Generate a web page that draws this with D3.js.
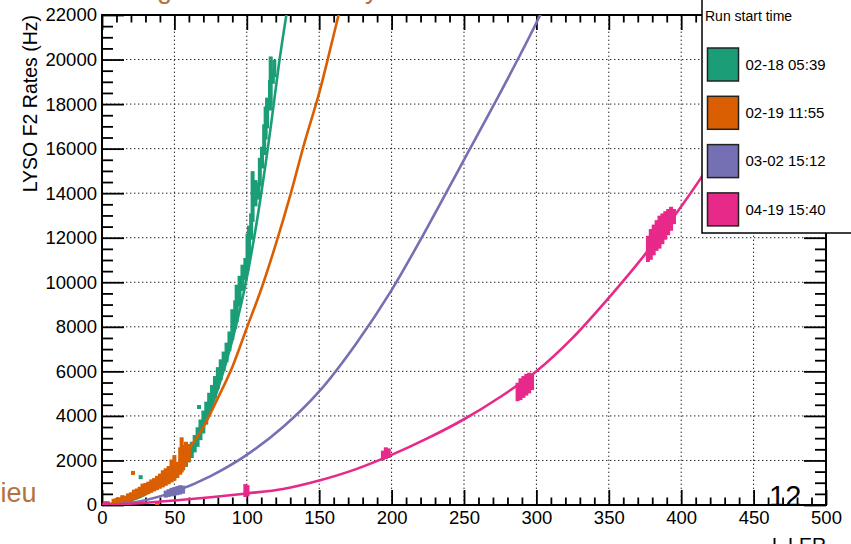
<!DOCTYPE html>
<html>
<head>
<meta charset="utf-8">
<script src="https://cdn.jsdelivr.net/npm/d3@7"></script>
<style>
  body { margin: 0; background: #fff; }
  svg { display: block; }
  text { font-family: "Liberation Sans", Arial, Helvetica, sans-serif; }
</style>
</head>
<body>
<div id="chart"></div>
<script>
// LYSO F2 rate vs I_LER, four runs

const runLabels = ['02-18 05:39', '02-19 11:55', '03-02 15:12', '04-19 15:40'];
const runColors = ['#1b9e77', '#d95f02', '#7570b3', '#e7298a'];

const xTicks = [0, 50, 100, 150, 200, 250, 300, 350, 400, 450, 500];
const yTicks = [0, 2000, 4000, 6000, 8000, 10000, 12000, 14000, 16000, 18000, 20000, 22000];

// fitted curves [I_LER, rate]
const greenLine = [[0, 0], [20, 200], [40, 900], [50, 1450], [60, 2300], [70, 3500], [80, 5200], [90, 7400],
    [100, 10200], [110, 14000], [117, 17200], [122, 19700], [128, 22300], [132, 24000]];
const orangeLine = [[0, 0], [20, 250], [40, 900], [50, 1500], [60, 2500], [70, 3500], [80, 4800], [90, 6200],
    [100, 7950], [110, 9700], [120, 11700], [130, 13900], [140, 16300], [150, 18500], [160, 21100], [166, 22700]];
const purpleLine = [[0, 0], [25, 150], [50, 600], [75, 1300], [100, 2250], [125, 3500], [150, 5100], [175, 7200],
    [200, 9650], [225, 12500], [250, 15500], [275, 18500], [300, 21650], [310, 23000]];
const pinkLine = [[0, 0], [25, 80], [50, 200], [75, 350], [100, 520], [125, 720], [150, 1100], [175, 1600],
    [200, 2250], [225, 3000], [250, 3850], [275, 4850], [300, 6000], [325, 7500], [350, 9300], [375, 11250],
    [400, 13400], [425, 15800], [450, 18400], [475, 21000], [500, 23600]];

// measured points, stacked in columns [I_LER, low rate, high rate]
const greenCols = [[48, 1200, 1350], [50, 1300, 1450], [52, 1400, 1600], [54, 1500, 1750], [56, 1650, 1900],
    [58, 1800, 2050], [60, 2000, 2450], [62, 2200, 2750], [64, 2450, 3050], [66, 2700, 3400], [68, 3000, 3750],
    [70, 3300, 4150], [72, 3700, 4550], [74, 4100, 4950], [76, 4500, 5300], [78, 4900, 5700], [80, 5300, 6100],
    [82, 5700, 6450], [84, 6100, 6800], [86, 6500, 7200], [88, 7000, 7700], [90, 7500, 8700], [92, 8000, 9100],
    [93, 8300, 9800], [95, 9000, 10200], [97, 9700, 10700], [99, 10200, 11000], [100.5, 10600, 12100],
    [101.5, 11000, 12450], [103, 12000, 13000], [104, 12800, 14900], [106, 13500, 14500], [108, 13800, 14400],
    [109, 14400, 15500], [110.5, 15200, 16000], [112, 15800, 17000], [113, 16500, 17800], [114, 17000, 18200],
    [116, 17800, 19000], [116.5, 18050, 20050], [118, 19000, 19500], [119, 19300, 19900]];
const greenSingles = [[26.7, 1250], [67, 4400]];

const orangeCols = [[8, 60, 190], [10, 80, 220], [12, 120, 260], [14, 150, 350], [16, 200, 330], [18, 240, 430],
    [20, 280, 480], [22, 330, 600], [24, 380, 650], [26, 430, 730], [28, 480, 870], [30, 530, 900], [32, 580, 960],
    [34, 640, 1060], [36, 700, 1120], [38, 760, 1220], [40, 820, 1320], [42, 880, 1470], [44, 950, 1560],
    [46, 1020, 1660], [48, 1100, 1950], [50, 1180, 2150], [52, 1300, 1850], [54, 1450, 2500], [55, 1550, 2950],
    [56, 1650, 2600], [58, 1850, 2750], [60, 2050, 2650]];
const orangeSingles = [[21.4, 1440], [10, 0], [17, 0], [38, 0]];

const purpleCols = [[44, 420, 560], [46, 450, 620], [48, 480, 680], [50, 500, 720], [52, 530, 760],
    [54, 560, 800], [56, 600, 780]];

const pinkCols = [[2, 0, 80], [4, 0, 80], [99, 450, 850], [100.5, 480, 800],
    [194, 2100, 2350], [196, 2150, 2500], [198, 2200, 2450],
    [287, 4750, 5400], [289, 4800, 5600], [291, 4900, 5700], [293, 5000, 5800], [295, 5100, 5850], [297, 5250, 5800],
    [377, 11000, 12000], [379, 11100, 12300], [381, 11300, 12500], [383, 11500, 12700], [385, 11600, 12900],
    [387, 11800, 13000], [389, 12000, 13100], [391, 12200, 13200], [393, 12400, 13300], [395, 12700, 13200]];

const series = [
    { line: greenLine, cols: greenCols, singles: greenSingles },
    { line: orangeLine, cols: orangeCols, singles: orangeSingles },
    { line: purpleLine, cols: purpleCols, singles: [] },
    { line: pinkLine, cols: pinkCols, singles: [] }
];

const W = 851, H = 544;
const x = d3.scaleLinear().domain([0, 500]).range([102, 826]);
const y = d3.scaleLinear().domain([0, 22000]).range([505, 15]);

const svg = d3.select('#chart').append('svg')
    .attr('width', W)
    .attr('height', H);

svg.append('defs').append('clipPath').attr('id', 'plotClip')
    .append('rect')
    .attr('x', x(0)).attr('y', y(22000))
    .attr('width', x(500) - x(0)).attr('height', y(0) - y(22000));

// dotted grid
const grid = svg.append('g').attr('stroke', '#222').attr('stroke-width', 1).attr('stroke-dasharray', '1.4,2.6');
grid.selectAll('.gx').data(xTicks.slice(1, -1)).enter().append('line')
    .attr('x1', d => x(d)).attr('x2', d => x(d))
    .attr('y1', y(0)).attr('y2', y(22000));
grid.selectAll('.gy').data(yTicks.slice(1, -1)).enter().append('line')
    .attr('x1', x(0)).attr('x2', x(500))
    .attr('y1', d => y(d)).attr('y2', d => y(d));

// axes with ROOT-like inner ticks on all four sides
function styleAxis(g, fontSize) {
    g.select('.domain').remove();
    g.selectAll('.tick line').attr('stroke', '#000').attr('stroke-width', 1.8);
    g.selectAll('.tick text').attr('fill', '#000').style('font-size', fontSize).style('font-family', '"Liberation Sans", Arial, sans-serif');
}

const minorX = d3.range(0, 501, 10).filter(v => v % 50 !== 0);
const minorY = d3.range(0, 22001, 500).filter(v => v % 2000 !== 0);

svg.append('g').attr('transform', `translate(0,${y(0)})`)
    .call(d3.axisBottom(x).tickValues(xTicks).tickSize(-15).tickPadding(6).tickFormat(d3.format('d')))
    .call(g => styleAxis(g, '18.5px'));
svg.append('g').attr('transform', `translate(0,${y(0)})`)
    .call(d3.axisBottom(x).tickValues(minorX).tickSize(-7.5).tickFormat(''))
    .call(g => styleAxis(g, '0px'));
svg.append('g').attr('transform', `translate(0,${y(22000)})`)
    .call(d3.axisTop(x).tickValues(xTicks).tickSize(-15).tickFormat(''))
    .call(g => styleAxis(g, '0px'));
svg.append('g').attr('transform', `translate(0,${y(22000)})`)
    .call(d3.axisTop(x).tickValues(minorX).tickSize(-7.5).tickFormat(''))
    .call(g => styleAxis(g, '0px'));

svg.append('g').attr('transform', `translate(${x(0)},0)`)
    .call(d3.axisLeft(y).tickValues(yTicks).tickSize(-22).tickPadding(5).tickFormat(d3.format('d')))
    .call(g => styleAxis(g, '18.5px'));
svg.append('g').attr('transform', `translate(${x(0)},0)`)
    .call(d3.axisLeft(y).tickValues(minorY).tickSize(-11).tickFormat(''))
    .call(g => styleAxis(g, '0px'));
svg.append('g').attr('transform', `translate(${x(500)},0)`)
    .call(d3.axisRight(y).tickValues(yTicks).tickSize(-22).tickFormat(''))
    .call(g => styleAxis(g, '0px'));
svg.append('g').attr('transform', `translate(${x(500)},0)`)
    .call(d3.axisRight(y).tickValues(minorY).tickSize(-11).tickFormat(''))
    .call(g => styleAxis(g, '0px'));

// frame
svg.append('rect')
    .attr('x', x(0)).attr('y', y(22000))
    .attr('width', x(500) - x(0)).attr('height', y(0) - y(22000))
    .attr('fill', 'none').attr('stroke', '#000').attr('stroke-width', 2);

// data
const plot = svg.append('g').attr('clip-path', 'url(#plotClip)');
const lineGen = d3.line().x(d => x(d[0])).y(d => y(d[1])).curve(d3.curveMonotoneX);
const mk = 4;

series.forEach((s, i) => {
    const g = plot.append('g');
    g.selectAll('.col').data(s.cols).enter().append('rect')
        .attr('x', d => x(d[0]) - mk / 2)
        .attr('y', d => y(d[2]) - mk / 2)
        .attr('width', mk)
        .attr('height', d => y(d[1]) - y(d[2]) + mk)
        .attr('fill', runColors[i]);
    g.selectAll('.pt').data(s.singles).enter().append('rect')
        .attr('x', d => x(d[0]) - mk / 2)
        .attr('y', d => y(d[1]) - mk / 2)
        .attr('width', mk).attr('height', mk)
        .attr('fill', runColors[i]);
    g.append('path')
        .datum(s.line)
        .attr('d', lineGen)
        .attr('fill', 'none')
        .attr('stroke', runColors[i])
        .attr('stroke-width', 2.6);
});

// axis titles
svg.append('text')
    .attr('transform', `translate(37,${y(22000)}) rotate(-90)`)
    .attr('text-anchor', 'end')
    .style('font-size', '19.5px')
    .text('LYSO F2 Rates (Hz)');
svg.append('text')
    .attr('x', x(500)).attr('y', 552)
    .attr('text-anchor', 'end')
    .style('font-size', '19.5px')
    .text('I_LER');

// legend
const legend = svg.append('g');
legend.append('rect')
    .attr('x', 702).attr('y', -5)
    .attr('width', 160).attr('height', 238)
    .attr('fill', '#fff').attr('stroke', '#000').attr('stroke-width', 1.5);
legend.append('text')
    .attr('x', 705).attr('y', 21)
    .style('font-size', '14px')
    .text('Run start time');
const entries = legend.selectAll('.entry').data(runLabels).enter().append('g')
    .attr('transform', (_, i) => `translate(707.5, ${48 + i * 48.3})`);
entries.append('rect')
    .attr('width', 31).attr('height', 33)
    .attr('fill', (_, i) => runColors[i])
    .attr('stroke', '#222').attr('stroke-width', 1.5);
entries.append('text')
    .attr('x', 38).attr('y', 16.5).attr('dy', '0.35em')
    .style('font-size', '15px')
    .text(d => d);

// slide remnants around the chart
svg.append('text').attr('x', 0.5).attr('y', 501.5)
    .attr('fill', '#b5713c').style('font-size', '27px')
    .text('ieu');
svg.append('text').attr('x', 157).attr('y', -2.4)
    .attr('fill', '#b5713c').style('font-size', '27px')
    .text('g');
svg.append('text').attr('x', 365).attr('y', -2.4)
    .attr('fill', '#b5713c').style('font-size', '27px')
    .text('y');
svg.append('text').attr('x', 769).attr('y', 506)
    .attr('fill', '#000').style('font-size', '29px')
    .text('12');
</script>
</body>
</html>
